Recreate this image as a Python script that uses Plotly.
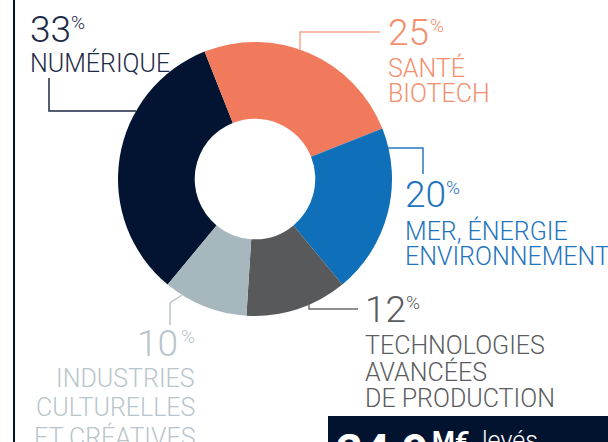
import plotly.graph_objects as go

W, H = 608, 442

# ---- data ----
categories = ["NUMÉRIQUE", "SANTÉ BIOTECH", "MER, ÉNERGIE ENVIRONNEMENT",
              "TECHNOLOGIES AVANCÉES DE PRODUCTION", "INDUSTRIES CULTURELLES ET CRÉATIVES"]
values = [33, 25, 20, 12, 10]
label_lines = [["NUMÉRIQUE"], ["SANTÉ", "BIOTECH"], ["MER, ÉNERGIE", "ENVIRONNEMENT"],
               ["TECHNOLOGIES", "AVANCÉES", "DE PRODUCTION"],
               ["INDUSTRIES", "CULTURELLES", "ET CRÉATIVES"]]
slice_colors = ["#021431", "#F27A5C", "#0F6FB9", "#58595B", "#A7B7BE"]
text_colors = ["#1E2B47", "#F48F6E", "#1F74BE", "#5B5C5E", "#B9C5CA"]
line_colors = ["#1E2B47", "#F6A88E", "#2A78BF", "#6A6B6D", "#B9C5CA"]
total_amount = "24,9"
total_unit = "M€"
total_word = "levés"

FONT = "Roboto"
NAVY = "#021330"

def px(x):
    return x / W

def py(y):
    return 1 - y / H

fig = go.Figure()

cx, cy, r = 255, 179, 137
fig.add_trace(go.Pie(
    labels=categories, values=values, sort=False, direction="clockwise",
    rotation=-140.4, hole=0.44, textinfo="none", hoverinfo="label+percent",
    marker=dict(colors=slice_colors, line=dict(width=0)),
    domain=dict(x=[px(cx - r), px(cx + r)], y=[py(cy + r), py(cy - r)]),
    showlegend=False,
))

# label layout (pixel positions of text blocks)
layouts = [
    dict(x=29, anchor="left", top=15, ltop=52, sp=26),
    dict(x=387, anchor="left", top=18, ltop=57, sp=26),
    dict(x=404, anchor="left", top=180, ltop=220, sp=26),
    dict(x=364, anchor="left", top=295, ltop=335, sp=26.5),
    dict(x=196, anchor="right", top=329, ltop=368, sp=29),
]
pct_offsets = [41, 42, 41, 41, 17]

def cap_y(top, f):
    return top - 0.217 * f

for i, lay in enumerate(layouts):
    f_big, f_pct, f_lab = 37, 19, 25
    col = text_colors[i]
    dx = lay["x"]
    if lay["anchor"] == "left":
        num_x, num_anchor = dx, "left"
        pct_x, pct_anchor = dx + pct_offsets[i], "left"
    else:
        num_x, num_anchor = dx - pct_offsets[i], "right"
        pct_x, pct_anchor = dx, "right"
    fig.add_annotation(x=px(num_x), y=py(cap_y(lay["top"], f_big)), xref="paper", yref="paper",
                       text=str(values[i]), showarrow=False, xanchor=num_anchor, yanchor="top",
                       borderpad=0, font=dict(family=FONT, size=f_big, color=col, weight=300))
    fig.add_annotation(x=px(pct_x), y=py(cap_y(lay["top"] - 1, f_pct)),
                       xref="paper", yref="paper", text="%", showarrow=False,
                       xanchor=pct_anchor, yanchor="top", borderpad=0,
                       font=dict(family=FONT, size=f_pct, color=col, weight=300))
    for j, line in enumerate(label_lines[i]):
        fig.add_annotation(x=px(dx), y=py(cap_y(lay["ltop"] + j * lay["sp"], f_lab)),
                           xref="paper", yref="paper", text=line, showarrow=False,
                           xanchor=lay["anchor"], yanchor="top", borderpad=0,
                           font=dict(family=FONT, size=f_lab, color=col, weight=300))

# leader lines (pixel paths)
leaders = [
    [(49, 78), (49, 111), (136, 111)],
    [(300, 50), (300, 32), (380, 32)],
    [(388, 148), (423, 148), (423, 174)],
    [(309, 304), (309, 309), (358, 309)],
    [(182, 295), (170, 303), (170, 325)],
]
for i, pts in enumerate(leaders):
    path = "M " + " L ".join(f"{px(x):.5f},{py(y):.5f}" for x, y in pts)
    fig.add_shape(type="path", path=path, xref="paper", yref="paper",
                  line=dict(color=line_colors[i], width=1.5))

# left vertical rule
fig.add_shape(type="line", x0=px(14), x1=px(14), y0=0, y1=1, xref="paper", yref="paper",
              line=dict(color=NAVY, width=2))

# bottom-right dark box
fig.add_shape(type="rect", x0=px(328), x1=1, y0=0, y1=py(416), xref="paper", yref="paper",
              fillcolor=NAVY, line=dict(width=0), layer="below")
fig.add_annotation(x=px(335), y=py(cap_y(432, 47)), xref="paper", yref="paper",
                   text=total_amount, showarrow=False, xanchor="left", yanchor="top", borderpad=0,
                   font=dict(family=FONT, size=47, color="white", weight=700))
fig.add_annotation(x=px(431), y=py(cap_y(431, 26)), xref="paper", yref="paper",
                   text=total_unit, showarrow=False, xanchor="left", yanchor="top", borderpad=0,
                   font=dict(family=FONT, size=26, color="white", weight=700))
fig.add_annotation(x=px(481), y=py(cap_y(430, 25)), xref="paper", yref="paper",
                   text=total_word, showarrow=False, xanchor="left", yanchor="top", borderpad=0,
                   font=dict(family=FONT, size=25, color="white", weight=300))

fig.update_layout(
    width=W, height=H, margin=dict(l=0, r=0, t=0, b=0),
    paper_bgcolor="white", plot_bgcolor="white",
    xaxis=dict(visible=False), yaxis=dict(visible=False),
)

fig.write_html("out.html", config={"displayModeBar": False},
               post_script="document.body.style.margin='0';")
